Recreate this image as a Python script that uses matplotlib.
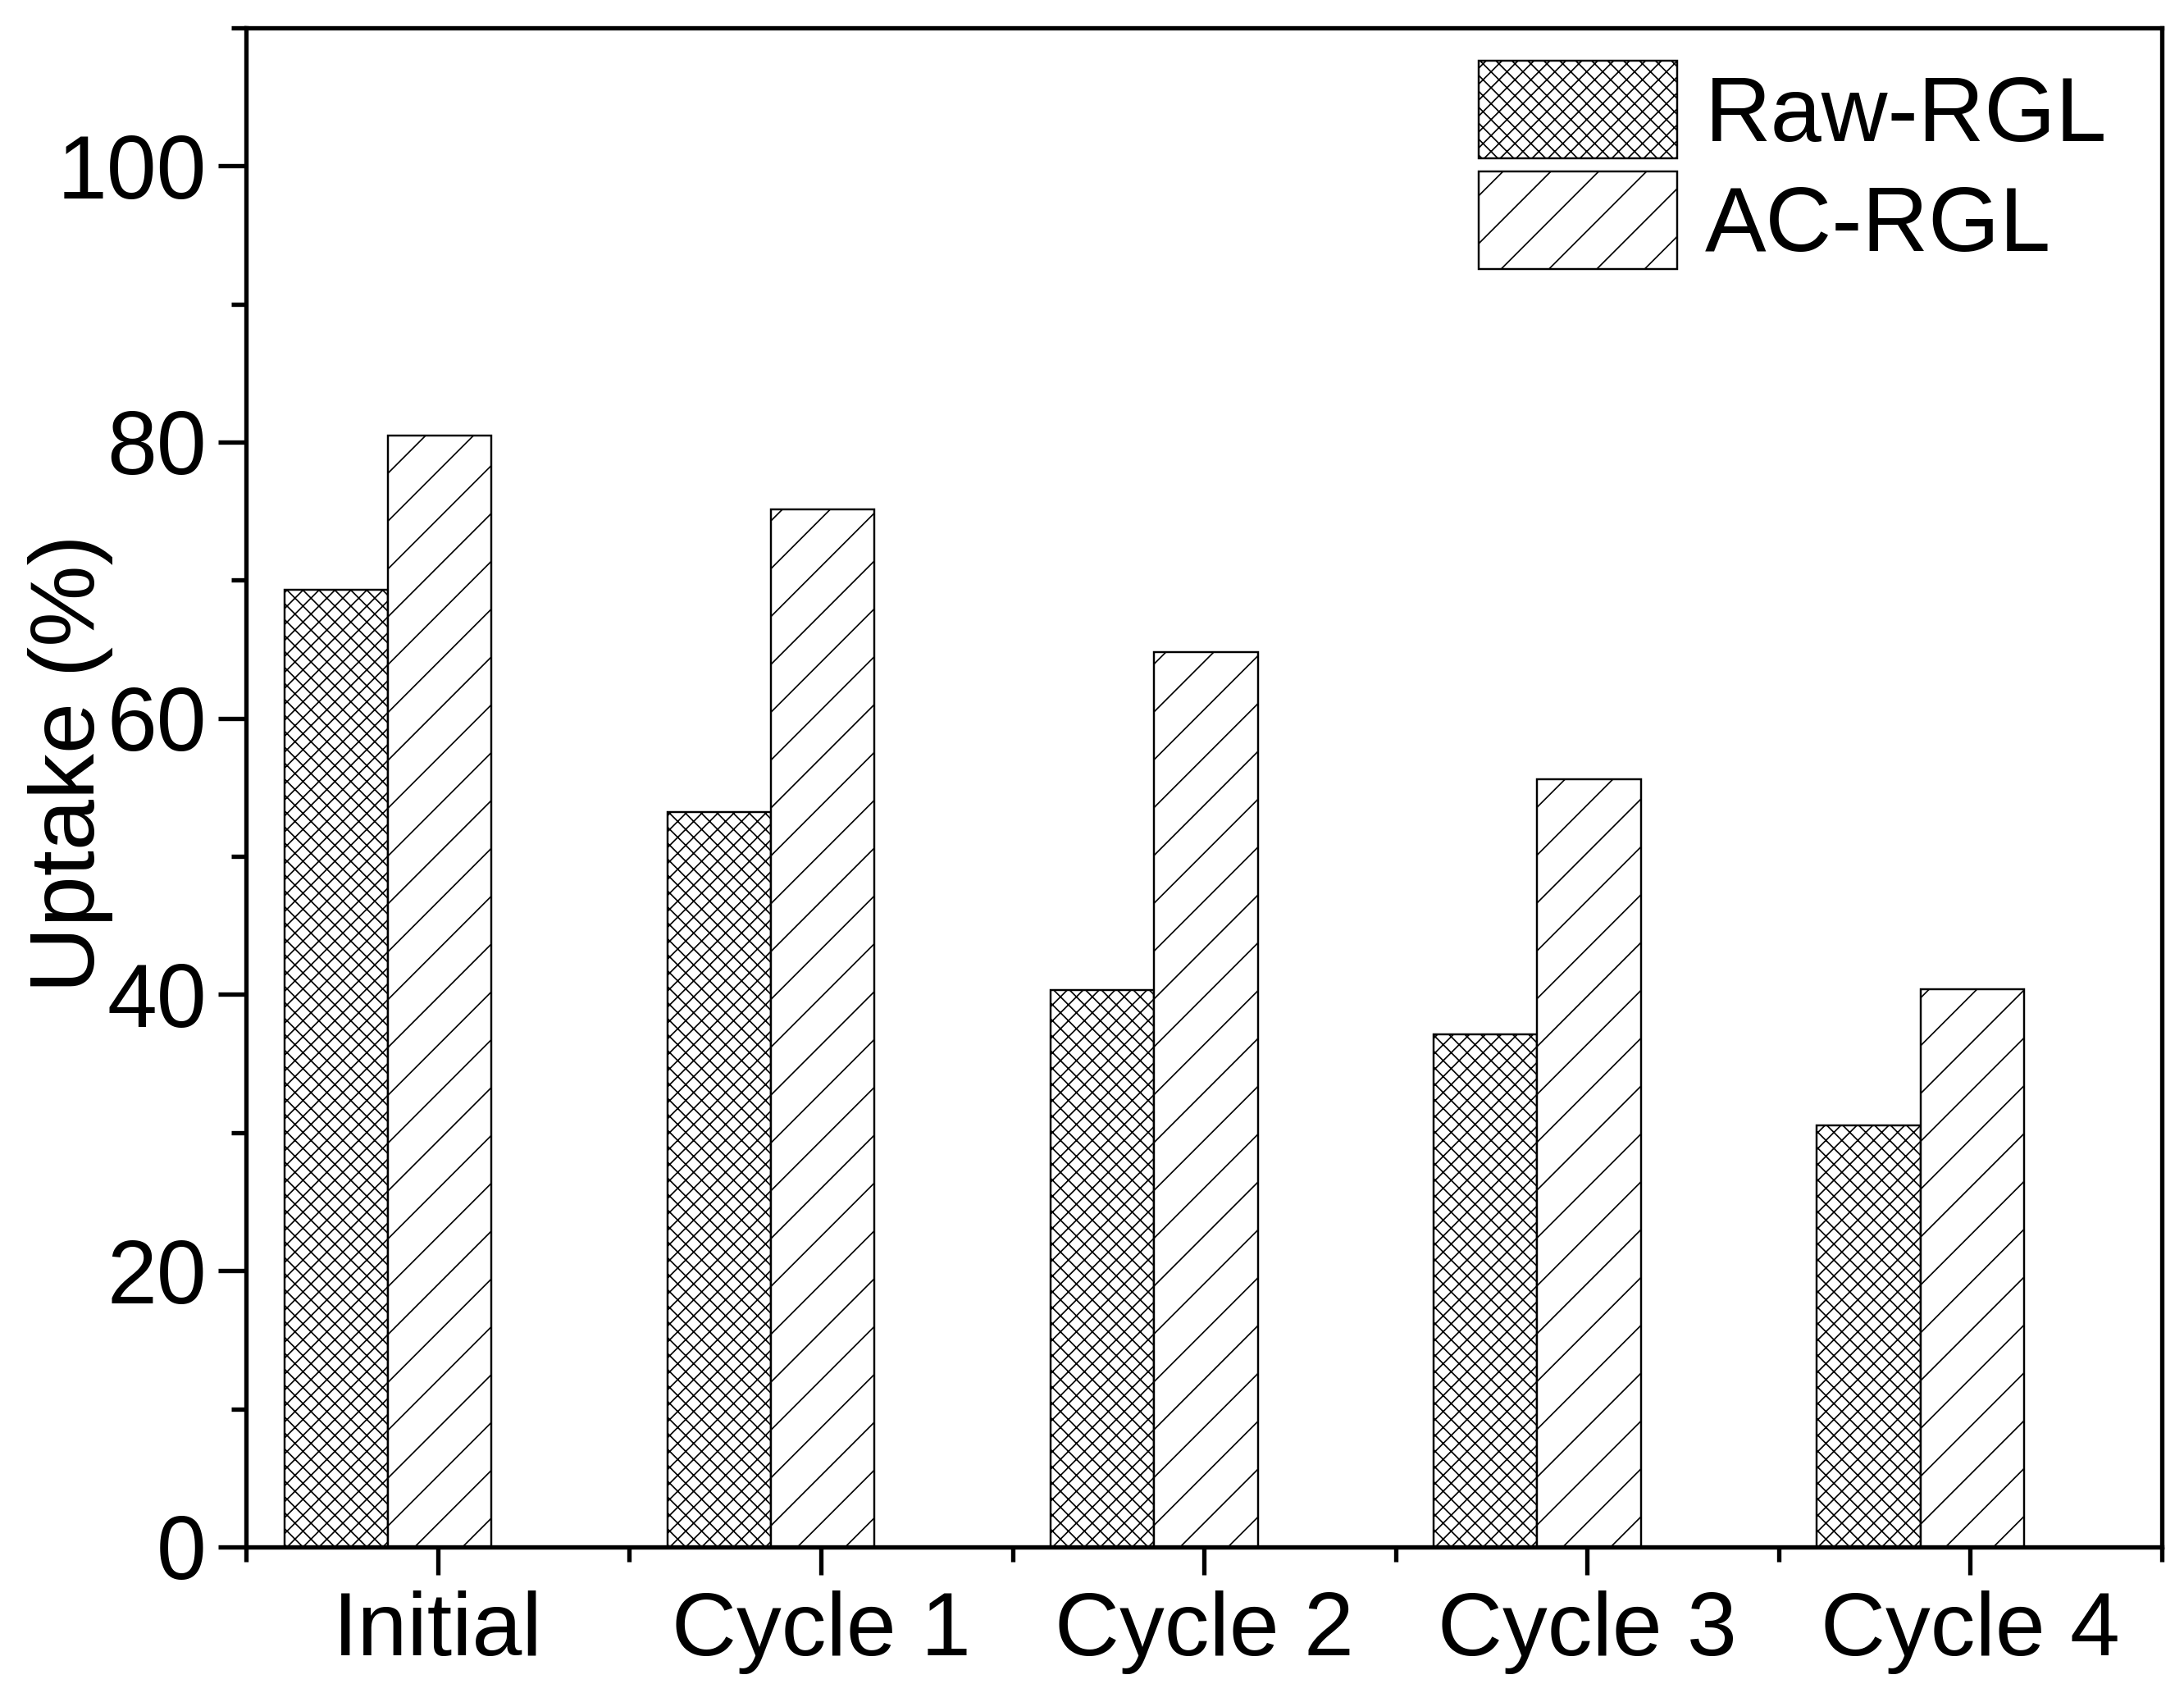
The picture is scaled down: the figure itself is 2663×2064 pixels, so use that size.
import numpy as np
import matplotlib.pyplot as plt
from matplotlib.ticker import FixedLocator, MultipleLocator

plt.rcParams['font.family'] = ['Liberation Sans', 'DejaVu Sans']
plt.rcParams['hatch.linewidth'] = 0.7

categories = ["Initial", "Cycle 1", "Cycle 2", "Cycle 3", "Cycle 4"]
raw_rgl = [69.3, 53.2, 40.3, 37.1, 30.5]
ac_rgl = [80.5, 75.1, 64.8, 55.6, 40.4]

DPI = 175
fig = plt.figure(figsize=(2663 / DPI, 2064 / DPI), dpi=DPI)
ax = fig.add_axes([0.1128, 0.0863, 0.8770, 0.8973])

x = np.arange(len(categories))
w = 0.27
ax.bar(x - w / 2, raw_rgl, w, facecolor="white", edgecolor="black",
       linewidth=1.0, hatch="xxx", label="Raw-RGL")
ax.bar(x + w / 2, ac_rgl, w, facecolor="white", edgecolor="black",
       linewidth=1.0, hatch="/", label="AC-RGL")

ax.set_xlim(-0.37, 4.63)
ax.set_ylim(0, 110)

# Origin-style ticks: category ticks slightly right of the group centre
ax.xaxis.set_major_locator(FixedLocator(x + 0.13))
ax.xaxis.set_minor_locator(FixedLocator(np.append(x - 0.37, 4.63)))
ax.set_xticklabels(categories)
ax.yaxis.set_major_locator(MultipleLocator(20))
ax.yaxis.set_minor_locator(MultipleLocator(10))

ax.tick_params(which="both", direction="out", width=2.2, labelsize=45,
               top=False, right=False)
ax.tick_params(which="major", length=14)
ax.tick_params(which="minor", length=7.5)
ax.tick_params(axis="y", pad=6)
ax.tick_params(axis="x", pad=8)

for s in ax.spines.values():
    s.set_linewidth(2.2)

ax.set_ylabel("Uptake (%)", fontsize=46)
ax.yaxis.set_label_coords(-0.0695, 0.516)

ax.legend(loc="upper left", bbox_to_anchor=(0.656, 0.991),
          bbox_transform=fig.transFigure, frameon=False, fontsize=46,
          borderpad=0, handlelength=2.17, handleheight=1.26,
          labelspacing=0.13, handletextpad=0.3)

fig.savefig("out.png", dpi=DPI)
